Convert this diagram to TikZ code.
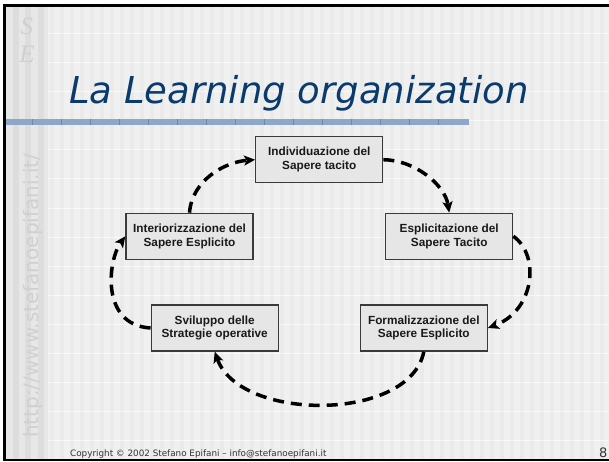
\documentclass[tikz,border=0pt]{standalone}
\usepackage{fontspec}
\setmainfont{Liberation Sans}
\newfontfamily\verd{DejaVu Sans}
\newfontfamily\logofont{Liberation Serif}
\usetikzlibrary{arrows.meta}
\definecolor{titleblue}{HTML}{0B3A6C}
\definecolor{bgmain}{HTML}{F0F0F0}
\definecolor{bgstripe}{HTML}{EAEAEA}
\definecolor{stripbg}{HTML}{E7E7E7}
\definecolor{stripdark}{HTML}{DDDDDD}
\definecolor{barblue}{HTML}{8CA7C8}
\definecolor{bartick}{HTML}{6B89AE}
\definecolor{urlgray}{HTML}{D0D0D0}
\definecolor{logogray}{HTML}{D0D0D0}
\definecolor{boxfill}{HTML}{E6E6E6}
\definecolor{boxborder}{HTML}{3A3A3A}
\definecolor{footgray}{HTML}{333333}
\tikzset{
  box/.style={draw=boxborder, fill=boxfill, line width=1.3pt, minimum width=127pt,
    minimum height=46pt, inner sep=0pt, align=center, text=black!90,
    font=\bfseries\fontsize{11.8}{13.7}\selectfont},
  flow/.style={line width=3.5pt, dash pattern=on 11pt off 7pt,
    -{Stealth[length=11pt,width=10pt,inset=2.5pt]}},
  footer/.style={inner sep=0pt, text=footgray}
}
\begin{document}
\begin{tikzpicture}[x=1pt,y=-1pt]
\useasboundingbox (0,0) rectangle (609,461);
% background
\fill[white] (0,0) rectangle (609,461);
\fill[bgmain] (5,5) rectangle (609,460);
\foreach \i in {0,...,55} \fill[bgstripe] ({50+10*\i},5) rectangle ({54+10*\i},460);
\foreach \k in {0,...,14} \draw[white, line width=0.8pt, opacity=0.6] (48,{33.3+29.1*\k}) -- (609,{33.3+29.1*\k});
% left strip
\fill[stripbg] (5,5) rectangle (48,460);
\foreach \x in {13,25,38} \fill[stripdark] (\x,5) rectangle ({\x+6},460);
% logo
\node[text=logogray, inner sep=0pt, align=center, font=\logofont\itshape\fontsize{25}{28}\selectfont] (logo) at (27,40) {S\\E};
% url
\node[rotate=90, anchor=base west, inner sep=0pt, text=urlgray, font=\verd\fontsize{20}{24}\selectfont] (url) at (38,438) {http://www.stefanoepifani.it/};
% title bar
\fill[barblue] (5,119) rectangle (469,125);
\foreach \i in {1,...,15} \draw[bartick, line width=0.8pt] ({3+29*\i},119) -- ({3+29*\i},125);
% border
\draw[black, line width=2.4pt] (609,5.3) -- (4.5,5.3) -- (4.5,460) -- (609,460);
% title
\node[anchor=base west, inner sep=0pt, text=titleblue, font=\verd\itshape\fontsize{37}{40}\selectfont] (title) at (69,103) {La Learning organization};
% boxes
\node[box] (ind) at (319.2,159.7) {Individuazione del\\Sapere tacito};
\node[box] (inter) at (189.5,236.3) {Interiorizzazione del\\Sapere Esplicito};
\node[box] (esp) at (449.2,236.3) {Esplicitazione del\\Sapere Tacito};
\node[box] (svil) at (214.7,328) {Sviluppo delle\\Strategie operative};
\node[box] (form) at (423.8,328) {Formalizzazione del\\Sapere Esplicito};
% connectors
\draw[flow] (ind.east) .. controls (415,160) and (445,185) .. (esp.north);
\draw[flow] (esp.east) .. controls (540,255) and (535,310) .. (form.east);
\draw[flow] (form.south) .. controls (410,422) and (240,422) .. (svil.south);
\draw[flow] (svil.west) .. controls (100,325) and (108,260) .. (inter.west);
\draw[flow] (inter.north) .. controls (192,180) and (225,162) .. (ind.west);
% footer
\node[footer, anchor=base west, font=\verd\fontsize{8.8}{11}\selectfont] (copy) at (70,456.5) {Copyright © 2002 Stefano Epifani – info@stefanoepifani.it};
\node[footer, anchor=base east, font=\verd\fontsize{13}{15}\selectfont] (page) at (607.5,457) {8};
\end{tikzpicture}
\end{document}
